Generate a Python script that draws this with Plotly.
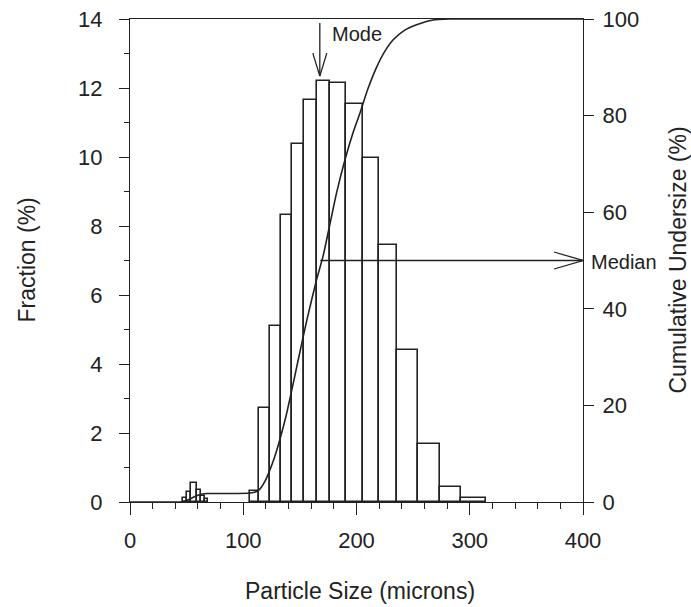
import plotly.graph_objects as go

# Size classes (microns): lower / upper edge of each bin, and the fraction retained (%)
bin_lo = [46.8, 50.3, 53.8, 59.1, 62.6, 66.2, 106.3, 114.1, 123.5, 133.0, 142.7,
          153.5, 164.7, 176.5, 190.3, 205.3, 219.7, 235.6, 254.4, 273.5, 292.7]
bin_hi = [50.3, 53.8, 59.1, 62.6, 66.2, 68.8, 114.1, 123.5, 133.0, 142.7, 153.5,
          164.7, 176.5, 190.3, 205.3, 219.7, 235.6, 254.4, 273.5, 292.7, 314.7]
fraction = [0.12, 0.30, 0.56, 0.34, 0.17, 0.08, 0.32, 2.73, 5.10, 8.32, 10.38,
            11.64, 12.20, 12.15, 11.54, 9.97, 7.45, 4.40, 1.68, 0.44, 0.13]

# Cumulative undersize curve (%)
cum_size = [0, 44, 48, 52, 56, 60, 64, 68, 104, 110, 114, 119, 123.5, 128, 133,
            138, 142.7, 148.5, 156, 164.7, 170.6, 176.5, 182.4, 190, 197, 203,
            210, 217.7, 225, 232.4, 242, 253, 267.6, 282, 400]
cum_pct = [0, 0, 0.15, 0.5, 1.0, 1.4, 1.65, 1.75, 1.8, 2.0, 2.5, 4.2, 6.6, 9.5,
           13.5, 18, 23, 29.4, 37.5, 46, 51, 57.5, 64, 71, 76.5, 80.5, 85.5, 90,
           93.3, 95.7, 97.6, 98.8, 99.8, 100, 100]

x_ticks = [0, 100, 200, 300, 400]
y_ticks = [0, 2, 4, 6, 8, 10, 12, 14]
y2_ticks = [0, 20, 40, 60, 80, 100]

MODE_SIZE = 167.6
MODE_FRACTION = max(fraction)
MEDIAN_SIZE = 168.0
MEDIAN_PCT = 50

INK = "#222222"
FONT = "Liberation Sans, Arial, Helvetica, sans-serif"

centers = [(a + b) / 2 for a, b in zip(bin_lo, bin_hi)]
widths = [b - a for a, b in zip(bin_lo, bin_hi)]

fig = go.Figure()
fig.add_trace(go.Bar(
    x=centers, y=fraction, width=widths,
    marker=dict(color="rgba(0,0,0,0)", line=dict(color=INK, width=1.6)),
    yaxis="y", showlegend=False, hoverinfo="skip",
))
fig.add_trace(go.Scatter(
    x=cum_size, y=cum_pct, mode="lines",
    line=dict(color=INK, width=1.6, shape="spline", smoothing=0.5),
    yaxis="y2", showlegend=False, hoverinfo="skip",
))

axis_common = dict(
    showgrid=False, zeroline=False, showline=True, linecolor=INK, linewidth=1.3,
    ticks="outside", tickcolor=INK, tickwidth=1.2, automargin=False,
    tickfont=dict(family=FONT, size=22, color=INK),
)

fig.update_layout(
    width=691, height=607,
    margin=dict(l=130, r=108, t=19, b=105),
    paper_bgcolor="white", plot_bgcolor="white",
    barmode="overlay", bargap=0,
    font=dict(family=FONT, color=INK),
    xaxis=dict(range=[0, 400], tickvals=x_ticks, ticklen=12, mirror=True,
               ticklabelstandoff=6,
               minor=dict(dtick=20, ticklen=6, ticks="outside", tickcolor=INK, tickwidth=1.0),
               **axis_common),
    yaxis=dict(range=[0, 14], tickvals=y_ticks, ticklen=10, ticklabelstandoff=12,
               minor=dict(dtick=1, ticklen=5, ticks="outside", tickcolor=INK, tickwidth=1.0),
               **axis_common),
    yaxis2=dict(range=[0, 100], tickvals=y2_ticks, ticklen=10, overlaying="y",
                side="right", ticklabelstandoff=4, **axis_common),
)

# Mode arrow: vertical shaft with an open "V" head just above the modal bar
line_style = dict(color=INK, width=1.3)
mode_arrow = [((0, 5), (0, 58)), ((0, 5), (-7, 28)), ((0, 5), (7, 28))]
for (xa, ya), (xb, yb) in mode_arrow:
    fig.add_shape(type="line", xref="x", yref="y",
                  xsizemode="pixel", ysizemode="pixel",
                  xanchor=MODE_SIZE, yanchor=MODE_FRACTION,
                  x0=xa, y0=ya, x1=xb, y1=yb, line=line_style)

# Median arrow: horizontal from the 50 % point to the right axis
fig.add_shape(type="line", xref="x", yref="y2", x0=MEDIAN_SIZE, x1=400,
              y0=MEDIAN_PCT, y1=MEDIAN_PCT, line=line_style)
for dy in (8.5, -8.5):
    fig.add_shape(type="line", xref="x", yref="y2",
                  xsizemode="pixel", ysizemode="pixel",
                  xanchor=400, yanchor=MEDIAN_PCT,
                  x0=0, y0=0, x1=-29, y1=dy, line=line_style)

fig.add_annotation(x=MODE_SIZE, y=MODE_FRACTION, xref="x", yref="y",
                   text="Mode", showarrow=False, xanchor="left", yanchor="middle",
                   xshift=10, yshift=47, font=dict(family=FONT, size=20, color=INK))
fig.add_annotation(x=1, y=MEDIAN_PCT, xref="paper", yref="y2",
                   text="Median", showarrow=False, xanchor="left", yanchor="middle",
                   xshift=6, yshift=-1, font=dict(family=FONT, size=20, color=INK))

# Axis titles
fig.add_annotation(x=0.5, y=0, xref="paper", yref="paper", yshift=-89, xshift=3,
                   text="Particle Size (microns)", showarrow=False,
                   xanchor="center", yanchor="middle",
                   font=dict(family=FONT, size=23, color=INK))
fig.add_annotation(x=0, y=0.5, xref="paper", yref="paper", xshift=-104,
                   text="Fraction (%)", showarrow=False, textangle=-90,
                   xanchor="center", yanchor="middle",
                   font=dict(family=FONT, size=23, color=INK))
fig.add_annotation(x=1, y=0.5, xref="paper", yref="paper", xshift=94,
                   text="Cumulative Undersize (%)", showarrow=False, textangle=-90,
                   xanchor="center", yanchor="middle",
                   font=dict(family=FONT, size=23, color=INK))

fig.write_html("out.html")
